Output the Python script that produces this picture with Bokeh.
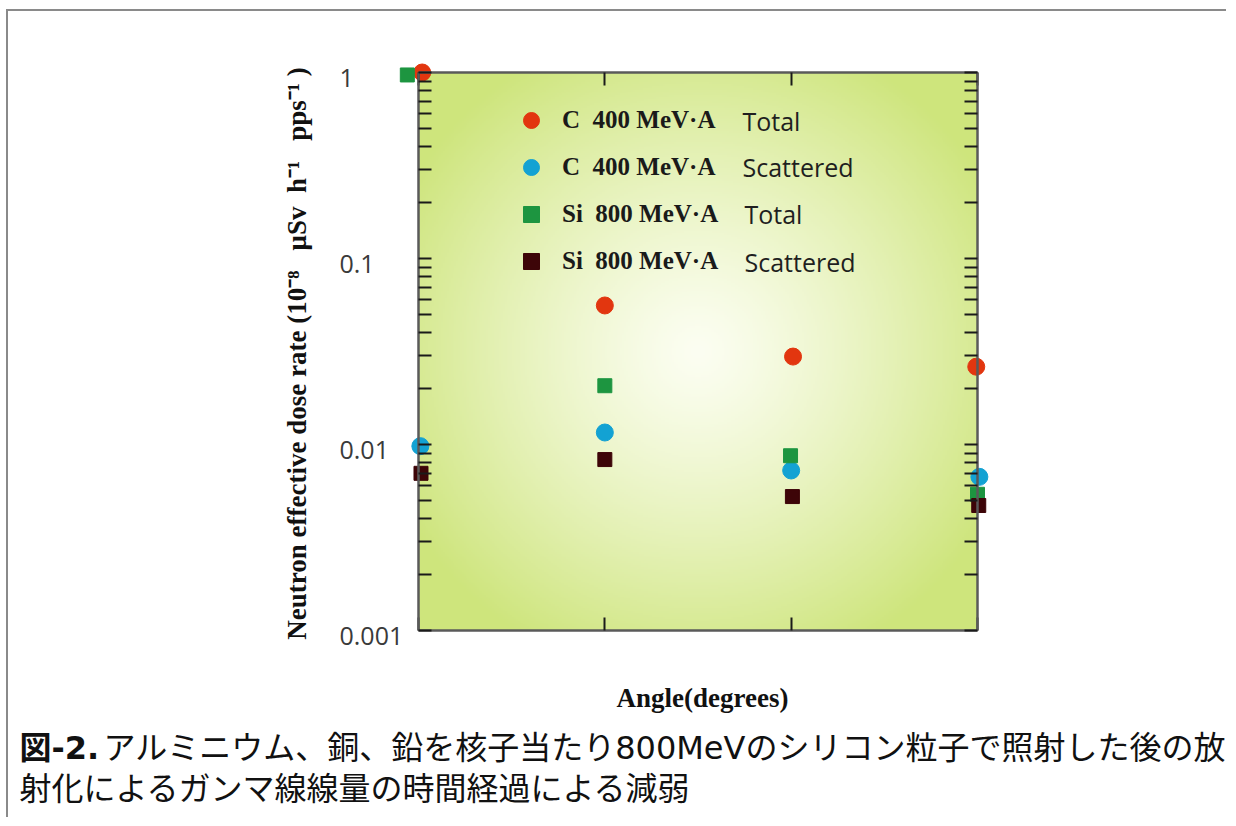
import numpy as np
from bokeh.plotting import figure
from bokeh.models import (Range1d, LinearAxis, LogAxis, FixedTicker, Label,
                          Legend, LegendItem)
from bokeh.embed import file_html
from bokeh.resources import INLINE

# ---------------- data ----------------
x_ticks = [0, 30, 60, 90]                      # angle positions (unlabelled ticks)
y_ticks = [0.001, 0.01, 0.1, 1]
y_tick_labels = ["0.001", "0.01", "0.1", "1"]

c_total_angle = [0.6, 30, 60.3, 89.8]
c_total = [1.0, 0.0559, 0.0297, 0.0262]

c_scat_angle = [0.3, 30, 60, 90.3]
c_scat = [0.0098, 0.0116, 0.00725, 0.0067]

si_total_angle = [-1.8, 30, 59.9, 90]
si_total = [0.97, 0.0207, 0.0087, 0.0054]

si_scat_angle = [0.4, 30, 60.2, 90.2]
si_scat = [0.0070, 0.0083, 0.00525, 0.0047]

legend_names = ["C\u00a0 400 MeV\u00b7A", "C\u00a0 400 MeV\u00b7A",
                "Si\u00a0 800 MeV\u00b7A", "Si\u00a0 800 MeV\u00b7A"]
legend_kinds = ["Total", "Scattered", "Total", "Scattered"]

y_label = ("Neutron effective dose rate (10\u207b\u2078\u00a0\u00a0 \u03bcSv\u00a0 h\u207b\u00b9"
           "\u00a0\u00a0 pps\u207b\u00b9\u00a0)")
x_label = "Angle(degrees)"
caption_bold = "図-2."
caption_line1 = "アルミニウム、銅、鉛を核子当たり800MeVのシリコン粒子で照射した後の放"
caption_line2 = "射化によるガンマ線線量の時間経過による減弱"

# ---------------- layout constants (pixels, page coordinates) ----------------
W, H = 1220, 808
MX, MY = 6, 9                 # css margins
OFFX, OFFY = MX + 2, MY + 2   # margin + css border
BOX_L, BOX_R, BOX_T, BOX_B = 418, 977, 72, 630

# the frame covers the whole canvas so that every text can be drawn in it
FL, FR = OFFX, OFFX + W
FT, FB = OFFY, OFFY + H

ppd = (BOX_R - BOX_L) / (x_ticks[-1] - x_ticks[0])
ppdec = (BOX_B - BOX_T) / 3.0


def X(px):
    return x_ticks[0] + (px - BOX_L) / ppd


def Y(py):
    return 10 ** (np.log10(y_ticks[-1]) - (py - BOX_T) / ppdec)


def sx(px):
    return px - FL


def sy(py):
    return FB - py


p = figure(width=W, height=H, x_range=Range1d(X(FL), X(FR)),
           y_range=Range1d(Y(FB), Y(FT)),
           y_axis_type="log", x_axis_location=None, y_axis_location=None,
           toolbar_location=None, output_backend="svg",
           min_border_left=0, min_border_right=0,
           min_border_top=0, min_border_bottom=0)
p.outline_line_color = None
p.background_fill_color = "white"
p.border_fill_color = "white"
for g in p.grid:
    g.visible = False
p.styles = {"margin-left": f"{MX}px", "margin-top": f"{MY}px",
            "border-left": "2px solid #8a8a8a", "border-top": "2px solid #8a8a8a"}

# ---------------- radial gradient background ----------------
n = 300
yy, xx = np.mgrid[0:n, 0:n]
fx = (xx + 0.5) / n
fy = (yy + 0.5) / n
r = np.hypot(fx - 0.5, fy - 0.5) * (BOX_B - BOX_T)
t = np.clip(r / 335.0, 0, 1) ** 1.25
center = np.array([252, 254, 242], dtype=float)
edge = np.array([206, 229, 124], dtype=float)
rgb = center[None, None, :] + (edge - center)[None, None, :] * t[..., None]
img = np.empty((n, n), dtype=np.uint32)
view = img.view(dtype=np.uint8).reshape((n, n, 4))
view[..., 0] = rgb[..., 0]
view[..., 1] = rgb[..., 1]
view[..., 2] = rgb[..., 2]
view[..., 3] = 255
p.image_rgba(image=[img], x=x_ticks[0], y=y_ticks[0],
             dw=x_ticks[-1] - x_ticks[0], dh=y_ticks[-1] - y_ticks[0], level="image")

# ---------------- data marks ----------------
r1 = p.scatter(c_total_angle, c_total, marker="circle", size=17,
               fill_color="#e2360f", line_color="#e2360f")
r2 = p.scatter(c_scat_angle, c_scat, marker="circle", size=17,
               fill_color="#13a2d3", line_color="#13a2d3")
r3 = p.scatter(si_total_angle, si_total, marker="square", size=14,
               fill_color="#1d9540", line_color="#1d9540")
r4 = p.scatter(si_scat_angle, si_scat, marker="square", size=14,
               fill_color="#3d0508", line_color="#3d0508")

# ---------------- axes (box frame) ----------------
minor = [m * 10.0 ** e for e in (-3, -2, -1) for m in range(2, 10)]
yticker = FixedTicker(ticks=y_ticks, minor_ticks=minor)
xticker = FixedTicker(ticks=x_ticks)


def style(ax):
    ax.axis_line_color = "#5a5a5a"
    ax.axis_line_width = 2.5
    ax.major_tick_in = 13
    ax.major_tick_out = 0
    ax.minor_tick_in = 13
    ax.minor_tick_out = 0
    ax.major_tick_line_color = "#1a1a1a"
    ax.major_tick_line_width = 2
    ax.minor_tick_line_color = "#1a1a1a"
    ax.minor_tick_line_width = 2
    ax.major_label_text_font_size = "1px"
    ax.major_label_text_color = None
    ax.major_label_standoff = 0


left = LogAxis(ticker=yticker, fixed_location=x_ticks[0], bounds=(y_ticks[0], y_ticks[-1]))
style(left)
p.add_layout(left, "left")

right = LogAxis(ticker=yticker, fixed_location=x_ticks[-1], bounds=(y_ticks[0], y_ticks[-1]))
style(right)
p.add_layout(right, "right")

bottom = LinearAxis(ticker=xticker, fixed_location=y_ticks[0], bounds=(x_ticks[0], x_ticks[-1]))
style(bottom)
bottom.minor_tick_line_color = None
p.add_layout(bottom, "below")

top = LinearAxis(ticker=xticker, fixed_location=y_ticks[-1], bounds=(x_ticks[0], x_ticks[-1]))
style(top)
top.minor_tick_line_color = None
p.add_layout(top, "above")

# y tick labels (left aligned, as in the original)
for v, lab in zip(y_ticks, y_tick_labels):
    p.add_layout(Label(x=sx(339), y=v, x_units="screen", y_units="data",
                       text=lab, text_align="left", text_baseline="middle",
                       y_offset=-5, text_font="Open Sans", text_font_size="25px",
                       text_color="#3a3a3a"))

# axis titles
p.add_layout(Label(x=sx(296), y=sy((BOX_T + BOX_B) / 2 + 2), x_units="screen", y_units="screen",
                   text=y_label, angle=np.pi / 2, text_align="center",
                   text_baseline="middle", text_font="Liberation Serif",
                   text_font_style="bold", text_font_size="27px", text_color="#111111"))
p.add_layout(Label(x=sx(702), y=sy(697), x_units="screen", y_units="screen",
                   text=x_label, text_align="center", text_baseline="middle",
                   text_font="Liberation Serif", text_font_style="bold",
                   text_font_size="27px", text_color="#111111"))

# ---------------- legend ----------------
legend = Legend(items=[LegendItem(label=nm, renderers=[rr])
                       for nm, rr in zip(legend_names, [r1, r2, r3, r4])],
                location=(sx(511), sy(281)), orientation="vertical",
                glyph_width=40, glyph_height=40, spacing=7, padding=0, margin=0,
                label_standoff=11, label_text_font="Liberation Serif",
                label_text_font_style="bold", label_text_font_size="25px",
                label_text_color="#1a1a1a", border_line_color=None,
                background_fill_alpha=0)
p.add_layout(legend)

row_y = [120, 166.5, 213, 261]
kind_x = [742, 742, 744, 744]
for k, yy_, xx_ in zip(legend_kinds, row_y, kind_x):
    p.add_layout(Label(x=sx(xx_), y=sy(yy_), x_units="screen", y_units="screen",
                       text=k, text_align="left", text_baseline="middle",
                       text_font="Open Sans", text_font_size="25px",
                       text_color="#1f1f1f"))

# ---------------- caption ----------------
cap_font = "DejaVu Sans, Noto Sans CJK JP"
p.add_layout(Label(x=sx(19), y=sy(747), x_units="screen", y_units="screen",
                   text=caption_bold, text_align="left", text_baseline="middle",
                   text_font=cap_font, text_font_style="bold",
                   text_font_size="32px", text_color="#111111"))
p.add_layout(Label(x=sx(103), y=sy(747), x_units="screen", y_units="screen",
                   text=caption_line1, text_align="left", text_baseline="middle",
                   text_font=cap_font, text_font_size="32px", text_color="#111111"))
p.add_layout(Label(x=sx(19), y=sy(788), x_units="screen", y_units="screen",
                   text=caption_line2, text_align="left", text_baseline="middle",
                   text_font=cap_font, text_font_size="32px", text_color="#111111"))

open("out.html", "w").write(file_html(p, INLINE))
